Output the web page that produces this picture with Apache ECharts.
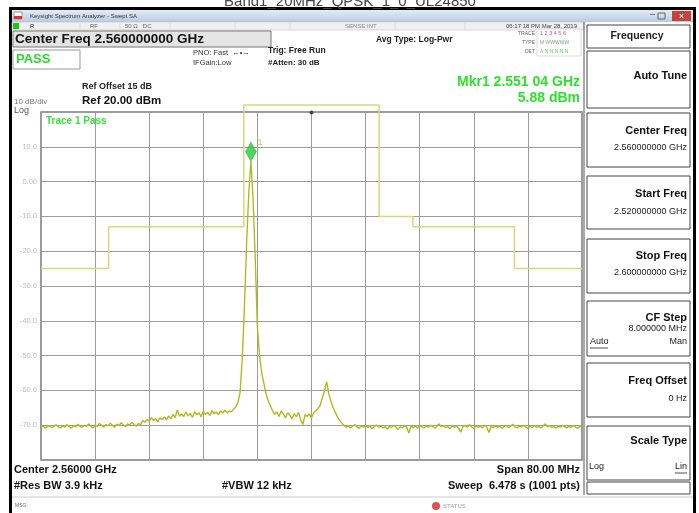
<!DOCTYPE html>
<html><head><meta charset="utf-8">
<script src="https://cdn.jsdelivr.net/npm/echarts@6/dist/echarts.min.js"></script>
<style>html,body{margin:0;padding:0;background:#fff}#c{width:699px;height:513px}</style>
</head><body><div id="c"></div>
<script>
// ---- data ----
const startMHz = 2520, stopMHz = 2600, stepMHz = 0.32; // sweep grid (every 4th of 1001 pts)
const traceLevels = [
-70.6,-70.2,-70.9,-70.4,-70.1,-70.7,-70.3,-69.9,-70.5,-70.8,
-70.2,-70.6,-69.8,-70.4,-70.9,-70.1,-70.5,-69.7,-70.3,-70.6,
-70.0,-70.4,-69.6,-70.2,-70.8,-69.9,-70.3,-69.5,-70.1,-70.5,
-69.8,-70.2,-69.4,-70.0,-70.6,-69.7,-70.1,-69.3,-69.9,-70.4,
-69.6,-70.0,-69.2,-69.8,-70.3,-69.5,-69.9,
-68.6,-69.2,-68.3,-68.9,-67.8,-68.7,-68.1,-69.0,-67.9,-68.4,
-67.6,-68.5,-67.3,-68.2,-66.9,-67.8,-65.6,-67.4,
-66.8,-67.5,-66.2,-67.3,-66.6,-67.8,-66.1,-67.0,-66.4,-67.6,
-66.0,-66.9,-66.3,-67.2,-65.8,-66.7,-66.2,-67.0,-65.9,-66.5,
-65.7,-66.4,-65.9,-66.2,-65.4,
-64.8,-63.5,-60.5,-51.0,-36.0,-18.0,-3.5,5.88,-5.0,-22.0,-42.0,-50.0,-55.0,-58.0,-61.0,-63.0,-64.5,
-65.8,-66.9,-66.2,-67.5,-65.9,-66.8,-67.9,-66.4,-67.2,-68.1,
-66.7,-67.6,-66.3,-68.4,-69.8,-67.0,-67.5,-66.8,-67.9,-66.4,-65.9,
-65.2,-64.3,-62.2,-60.1,-57.5,-61.0,-63.2,-65.0,-66.3,-67.6,-68.6,-69.4,-70.0,
-70.6,-70.1,-70.8,-70.3,-69.8,-70.5,-70.9,-70.2,-70.6,-70.0,
-70.7,-70.3,-71.0,-70.4,-69.9,-70.6,-70.2,-70.8,-70.4,-71.1,
-70.3,-70.7,-70.0,-70.5,-71.2,-70.4,-70.8,-70.1,-70.6,-72.3,
-70.2,-70.7,-70.3,-70.9,-70.1,-70.5,-70.8,-70.2,-70.6,-70.0,
-70.4,-70.9,-70.3,-69.6,-70.5,-70.1,-70.7,-70.4,-71.0,-70.2,
-70.6,-70.3,-70.8,-72.0,-70.4,-70.1,-70.6,-69.8,-70.5,-70.9,
-70.2,-70.6,-70.3,-70.8,-70.0,-70.5,-72.1,-70.4,-70.7,-70.2,
-70.6,-70.3,-70.9,-70.4,-70.1,-70.7,-70.3,-69.7,-70.5,-70.8,
-70.2,-70.6,-70.0,-70.5,-70.9,-70.3,-70.7,-70.1,-70.6,-70.4,
-70.8,-70.2,-69.6,-70.5,-70.1,-70.7,-70.3,-70.9,-70.2,-70.6,
-70.0,-70.5,-70.8,-70.3,-70.7,-70.1,-70.5,-70.9,-70.3,-70.6
];
const limitFreqs  = [2520, 2530, 2530, 2550, 2550, 2570, 2570, 2575, 2575, 2590, 2590, 2600];
const limitLevels = [-25, -25, -13, -13, 22, 22, -10, -10, -13, -13, -25, -25];
const markerFreq = 2551.04, markerLevel = 5.88;
const yTickValues = [10, 0, -10, -20, -30, -40, -50, -60, -70];
const yTickLabels = ['10.0', '0.00', '-10.0', '-20.0', '-30.0', '-40.0', '-50.0', '-60.0', '-70.0'];

const traceData = traceLevels.map((v, i) => [+(startMHz + i * stepMHz).toFixed(2), v]);
const limitData = limitFreqs.map((f, i) => [f, limitLevels[i]]);

// ---- helpers for the instrument frame ----
const F = '"Liberation Sans", Arial, sans-serif';
const G = [];
function rect(x, y, w, h, fill, stroke, lw, z) {
  G.push({type: 'rect', silent: true, shape: {x, y, width: w, height: h},
    style: {fill: fill || 'none', stroke: stroke || null, lineWidth: lw || 1}, z: (z === undefined ? -4 : z)});
}
function txt(t, x, y, size, opts) {
  opts = opts || {};
  G.push({type: 'text', silent: true, z: 5, style: {
    text: t, x, y, fill: opts.color || '#111',
    font: (opts.bold ? 'bold ' : '') + size + 'px ' + F,
    textAlign: opts.align || 'left', textVerticalAlign: 'middle'}});
}
function line(x1, y1, x2, y2, c, lw) {
  G.push({type: 'line', silent: true, z: 2, shape: {x1, y1, x2, y2}, style: {stroke: c, lineWidth: lw || 1}});
}

// page caption (cut at top)
txt('Band1_20MHz_QPSK_1_0_UL24850', 350, 2, 15, {color: '#444', align: 'center'});
// window frame
rect(9, 7, 687, 510, '#000', null, 1, -6);
rect(12, 10, 681, 505, '#fff', null, 1, -5);
// title bar
G.push({type: 'rect', silent: true, z: -4, shape: {x: 12, y: 10, width: 681, height: 12},
  style: {fill: new echarts.graphic.LinearGradient(0, 0, 0, 1, [{offset: 0, color: '#e4ecf6'}, {offset: 1, color: '#b9cbe2'}])}});
rect(14, 12, 8, 7, '#fff', '#999');
rect(14, 16, 8, 3, '#d33');
txt('Keysight Spectrum Analyzer - Swept SA', 30, 16, 6, {color: '#333'});
txt('–', 650, 15, 9, {color: '#444'});
rect(658, 13, 7, 6, 'none', '#666');
rect(672, 11, 19, 10, '#c8413a');
txt('x', 681.5, 15.5, 8, {color: '#fff', bold: true, align: 'center'});
// status row
rect(12, 22, 572, 8, '#f0f0f0', '#bbb', 0.5);
rect(13, 23, 6, 6, '#1c1');
txt('R', 30, 26, 6, {color: '#333'});
txt('RF', 90, 26, 6, {color: '#666'});
txt('50 Ω   DC', 125, 26, 6, {color: '#666'});
txt('SENSE:INT', 345, 26, 6, {color: '#888'});
txt('06:17:18 PM Mar 28, 2019', 577, 26, 6, {color: '#444', align: 'right'});
[80, 120, 170, 235, 290, 395, 465].forEach(x => line(x, 23, x, 29, '#ccc', 0.5));
// header info
rect(13, 31, 258, 16, '#e4e4e4', '#777');
txt('Center Freq 2.560000000 GHz', 15, 39.5, 13.5, {bold: true});
rect(13, 50, 67, 19, '#fff', '#999');
txt('PASS', 16, 59.5, 13, {bold: true, color: '#2ed82e'});
txt('PNO: Fast  ←•→', 193, 52.5, 7.5, {color: '#333'});
txt('IFGain:Low', 193, 63, 7.5, {color: '#333'});
txt('Trig: Free Run', 268, 51, 8.5, {bold: true, color: '#222'});
txt('#Atten: 30 dB', 268, 63, 8, {bold: true, color: '#222'});
txt('Avg Type: Log-Pwr', 376, 40, 8.5, {bold: true, color: '#222'});
txt('TRACE', 535, 33.5, 5, {color: '#666', align: 'right'});
txt('TYPE', 535, 42.5, 5, {color: '#666', align: 'right'});
txt('DET', 535, 51.5, 5, {color: '#666', align: 'right'});
rect(537, 29, 44, 27, '#fff', '#bbb', 0.5);
txt('1 2 3 4 5 6', 540, 33.5, 5.5, {color: '#c5a'});
txt('M WWWWW', 540, 42.5, 5, {color: '#7a7'});
txt('A N N N N N', 540, 51.5, 5, {color: '#6c6'});
txt('Ref Offset 15 dB', 82, 87, 9, {bold: true, color: '#222'});
txt('Ref 20.00 dBm', 82, 101, 11.5, {bold: true});
txt('10 dB/div', 14, 102, 8, {color: '#777'});
txt('Log', 14, 110.5, 9, {color: '#555'});
txt('Mkr1 2.551 04 GHz', 580, 82, 14, {bold: true, color: '#2fe02f', align: 'right'});
txt('5.88 dBm', 580, 98, 14, {bold: true, color: '#2fe02f', align: 'right'});
txt('Trace 1 Pass', 46, 121, 10, {bold: true, color: '#3be03b'});
// footer
txt('Center 2.56000 GHz', 14, 470, 11, {bold: true});
txt('#Res BW 3.9 kHz', 14, 486, 11, {bold: true});
txt('#VBW 12 kHz', 222, 486, 11, {bold: true});
txt('Span 80.00 MHz', 580, 470, 11, {bold: true, align: 'right'});
txt('Sweep  6.478 s (1001 pts)', 580, 486, 11, {bold: true, align: 'right'});
line(12, 497, 693, 497, '#ccc', 1);
txt('MSG', 15, 506, 5, {color: '#666'});
line(27, 500, 27, 511, '#ccc', 0.5);
G.push({type: 'circle', silent: true, z: 3, shape: {cx: 436, cy: 506, r: 4}, style: {fill: '#e05050'}});
txt('STATUS', 443, 506, 6, {color: '#99a'});
// soft key panel
line(584, 22, 584, 495, '#555', 1);
const keys = [
  [25, 48], [51, 108], [113, 167], [176, 229], [239, 293], [301, 356], [363, 417], [426, 480], [482, 494]
];
keys.forEach(k => rect(587, k[0], 103, k[1] - k[0], '#fff', '#444', 1));
txt('Frequency', 637, 36, 10.5, {bold: true, color: '#222', align: 'center'});
txt('Auto Tune', 687, 76, 11, {bold: true, align: 'right'});
txt('Center Freq', 687, 131, 11, {bold: true, align: 'right'});
txt('2.560000000 GHz', 687, 148, 9, {color: '#222', align: 'right'});
txt('Start Freq', 687, 194, 11, {bold: true, align: 'right'});
txt('2.520000000 GHz', 687, 212, 9, {color: '#222', align: 'right'});
txt('Stop Freq', 687, 256, 11, {bold: true, align: 'right'});
txt('2.600000000 GHz', 687, 273, 9, {color: '#222', align: 'right'});
txt('CF Step', 687, 318, 11, {bold: true, align: 'right'});
txt('8.000000 MHz', 687, 329, 9, {color: '#222', align: 'right'});
txt('Auto', 590, 342, 9, {color: '#222'});
line(590, 348, 608, 348, '#222', 0.8);
txt('Man', 687, 342, 9, {color: '#222', align: 'right'});
txt('Freq Offset', 687, 381, 11, {bold: true, align: 'right'});
txt('0 Hz', 687, 399, 9, {color: '#222', align: 'right'});
txt('Scale Type', 687, 441, 11, {bold: true, align: 'right'});
txt('Log', 589, 467, 9, {color: '#222'});
txt('Lin', 687, 467, 9, {color: '#222', align: 'right'});
line(675, 473, 687, 473, '#222', 0.8);
// center tick
G.push({type: 'circle', silent: true, z: 10, shape: {cx: 311.5, cy: 112.5, r: 2}, style: {fill: '#444'}});

const chart = echarts.init(document.getElementById('c'), null, {renderer: 'canvas'});
chart.setOption({
  animation: false,
  backgroundColor: '#fff',
  graphic: {elements: G},
  grid: {left: 41, top: 112, width: 541, height: 348, show: true, borderColor: '#7a7a7a', borderWidth: 1.5, backgroundColor: 'transparent', z: 1},
  xAxis: {type: 'value', min: startMHz, max: stopMHz, interval: 8, z: 2,
    axisLine: {show: false}, axisTick: {show: false}, axisLabel: {show: false},
    splitLine: {show: true, lineStyle: {color: '#9c9c9c', width: 1}}},
  yAxis: {type: 'value', min: -80, max: 20, interval: 10, z: 2,
    axisLine: {show: false}, axisTick: {show: false},
    axisLabel: {color: '#bdbdbd', fontSize: 7.5, fontFamily: F, margin: 4,
      formatter: v => { const i = yTickValues.indexOf(v); return i >= 0 ? yTickLabels[i] : ''; }},
    splitLine: {show: true, lineStyle: {color: '#9c9c9c', width: 1}}},
  series: [
    {type: 'line', data: limitData, symbol: 'none', clip: false, z: 3,
      lineStyle: {color: '#d6d97a', width: 1.5}},
    {type: 'line', data: traceData, symbol: 'none', z: 4,
      lineStyle: {color: '#aabb1a', width: 1.35}},
    {type: 'scatter', data: [[markerFreq, markerLevel]], symbol: 'diamond', symbolSize: [11, 19],
      symbolOffset: [0, '-50%'], z: 6,
      itemStyle: {color: '#22cc33', borderColor: '#119922', borderWidth: 0.5},
      label: {show: true, formatter: '1', position: 'right', offset: [-4, -9], color: '#e0a020', fontSize: 9}}
  ]
});
</script></body></html>
